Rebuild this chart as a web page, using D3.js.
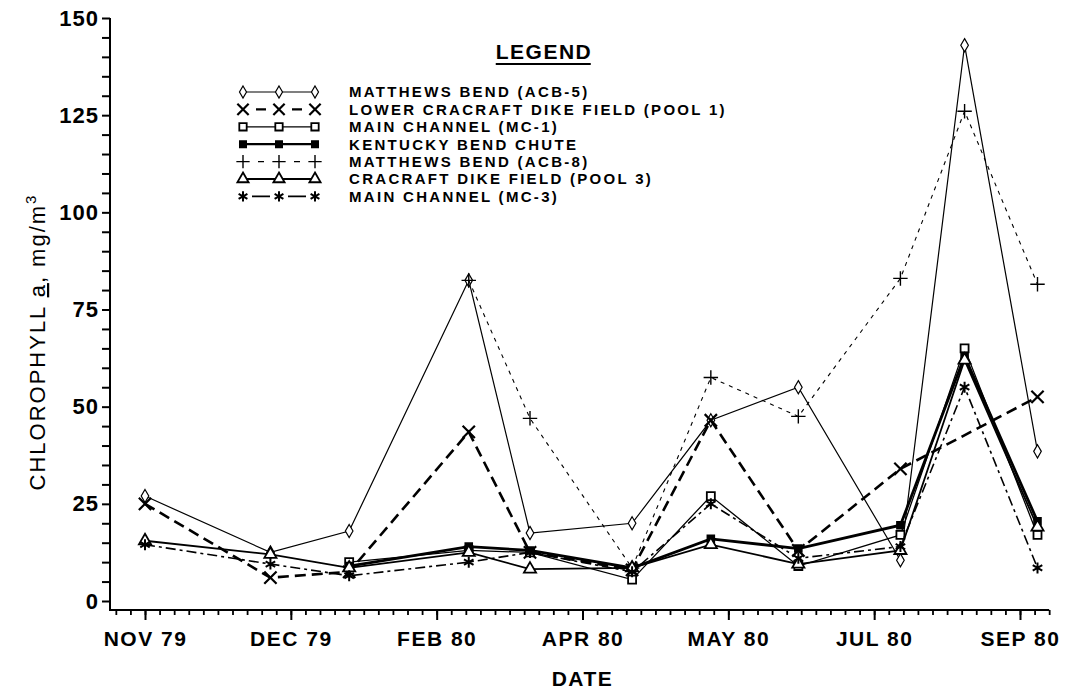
<!DOCTYPE html>
<html lang="en">
  <head>
    <meta charset="UTF-8" />
    <title>Chlorophyll a</title>
    <style>
      body { margin: 0; background: #fff; }
      text { font-family: "Liberation Sans", Arial, sans-serif; fill: #000; }
    </style>
  </head>
  <body>
    <svg id="svg" width="1065" height="693"></svg>

    <script src="https://d3js.org/d3.v7.min.js"></script>
    <script>
      // sampling dates, in days after the NOV 79 label
      const sampleDays = [0, 43, 70, 111, 132, 167, 194, 224, 259, 281, 306];

      // chlorophyll a, mg/m3 (null = not sampled)
      const acb5 = [27, 12.5, 18, 82.5, 17.5, 20, 46.5, 55, 10.5, 143, 38.5];
      const pool1 = [25, 6, 7.5, 43.5, 12.5, 8, 46.5, 13, 34, null, 52.5];
      const mc1 = [null, null, 10, 13, 12.5, 5.5, 27, 9, 17, 65, 17];
      const kentucky = [null, null, 9, 14, 13, 8.5, 16, 13.5, 19.5, 63, 20.5];
      const acb8 = [null, null, null, 82.5, 47, 8.5, 57.5, 47.5, 83, 126, 81.5];
      const pool3 = [15.5, 12, 8.5, 12.5, 8.2, 8.5, 14.5, 9.5, 13, 62, 19];
      const mc3 = [14.5, 9.5, 6.5, 10, 12.5, 7.5, 25, 11, 14, 55, 8.5];

      const seriesNames = [
        "MATTHEWS BEND (ACB-5)",
        "LOWER CRACRAFT DIKE FIELD (POOL 1)",
        "MAIN CHANNEL (MC-1)",
        "KENTUCKY BEND CHUTE",
        "MATTHEWS BEND (ACB-8)",
        "CRACRAFT DIKE FIELD (POOL 3)",
        "MAIN CHANNEL (MC-3)",
      ];
      const seriesValues = [acb5, pool1, mc1, kentucky, acb8, pool3, mc3];

      const xTickDays = [0, 50, 100, 150, 200, 250, 300];
      const xTickLabels = ["NOV 79", "DEC 79", "FEB 80", "APR 80", "MAY 80", "JUL 80", "SEP 80"];
      const yTickValues = [0, 25, 50, 75, 100, 125, 150];

      // look of each series: marker, line, and legend dash
      const styles = [
        { sym: d3.symbolDiamond, size: 50, fill: "#fff", sw: 1.2, lw: 1.2, dash: null, legDash: null },
        { sym: d3.symbolTimes, size: 100, fill: "none", sw: 2.2, lw: 2.6, dash: "11,6", legDash: "0,13,10,13" },
        { sym: d3.symbolSquare, size: 64, fill: "#fff", sw: 1.8, lw: 1.3, dash: null, legDash: null },
        { sym: d3.symbolSquare, size: 50, fill: "#000", sw: 1.5, lw: 2.8, dash: null, legDash: null },
        { sym: d3.symbolPlus, size: 70, fill: "none", sw: 1.4, lw: 1.1, dash: "4,5", legDash: "0,15,6,15" },
        { sym: d3.symbolTriangle, size: 64, fill: "#fff", sw: 1.8, lw: 1.8, dash: null, legDash: null },
        { sym: d3.symbolAsterisk, size: 85, fill: "none", sw: 2, lw: 1.6, dash: "10,4,3,4", legDash: "0,9,18,9" },
      ];

      const svg = d3.select("#svg");

      const x = d3.scaleLinear().domain([0, 300]).range([145, 1020]);
      const y = d3.scaleLinear().domain([0, 150]).range([601, 18]);

      const axisX = 110; // y axis position
      const axisY = 610; // x axis position

      // y axis
      const yAxis = svg
        .append("g")
        .attr("transform", `translate(${axisX},0)`)
        .call(
          d3
            .axisLeft(y)
            .tickValues(d3.range(0, 151, 5))
            .tickSize(8)
            .tickPadding(3)
            .tickFormat((d) => (yTickValues.includes(d) ? d : ""))
        );
      yAxis.select(".domain").remove();
      yAxis.selectAll("line").attr("stroke-width", 2);
      yAxis.selectAll("text")
        .style("font-size", "22px")
        .style("font-weight", "bold")
        .style("letter-spacing", "1px");

      // x axis: minor then major ticks
      const xMinor = svg
        .append("g")
        .attr("transform", `translate(0,${axisY})`)
        .call(d3.axisBottom(x).tickValues(d3.range(-10, 311, 5)).tickSize(5).tickFormat(""));
      xMinor.select(".domain").remove();
      xMinor.selectAll("line").attr("stroke-width", 1.8);

      const xMajor = svg
        .append("g")
        .attr("transform", `translate(0,${axisY})`)
        .call(
          d3
            .axisBottom(x)
            .tickValues(xTickDays)
            .tickSize(10)
            .tickPadding(11)
            .tickFormat((d, i) => xTickLabels[i])
        );
      xMajor.select(".domain").remove();
      xMajor.selectAll("line").attr("stroke-width", 2);
      xMajor.selectAll("text")
        .style("font-size", "21px")
        .style("font-weight", "bold")
        .style("letter-spacing", "1.5px");

      // axis lines
      svg.append("path")
        .attr("d", `M${axisX},${y(150)}V${axisY}H${x(310)}`)
        .attr("fill", "none")
        .attr("stroke", "#000")
        .attr("stroke-width", 2);

      // axis titles
      svg.append("text")
        .attr("x", x(150))
        .attr("y", 686)
        .attr("text-anchor", "middle")
        .style("font-size", "21px")
        .style("font-weight", "bold")
        .style("letter-spacing", "1.5px")
        .text("DATE");

      const yTitle = svg.append("text")
        .attr("transform", "translate(45,342) rotate(-90)")
        .attr("text-anchor", "middle")
        .style("font-size", "22px")
        .style("letter-spacing", "2px");
      yTitle.append("tspan").text("CHLOROPHYLL ");
      yTitle.append("tspan").style("text-decoration", "underline").text("a");
      yTitle.append("tspan").text(", mg/m");
      yTitle.append("tspan").attr("dy", -9).style("font-size", "15px").text("3");

      // series
      const line = d3.line().x((d) => x(d.day)).y((d) => y(d.v));

      seriesValues.forEach((vals, i) => {
        const st = styles[i];
        const pts = vals
          .map((v, j) => ({ day: sampleDays[j], v: v }))
          .filter((d) => d.v !== null);

        svg.append("path")
          .datum(pts)
          .attr("d", line)
          .attr("fill", "none")
          .attr("stroke", "#000")
          .attr("stroke-width", st.lw)
          .attr("stroke-dasharray", st.dash);

        svg.append("g")
          .selectAll("path")
          .data(pts)
          .join("path")
          .attr("transform", (d) => `translate(${x(d.day)},${y(d.v)})`)
          .attr("d", d3.symbol().type(st.sym).size(st.size))
          .attr("fill", st.fill)
          .attr("stroke", "#000")
          .attr("stroke-width", st.sw);
      });

      // legend
      const legTitle = svg.append("text")
        .attr("x", 544)
        .attr("y", 59)
        .attr("text-anchor", "middle")
        .style("font-size", "21px")
        .style("font-weight", "bold")
        .style("letter-spacing", "1.5px")
        .text("LEGEND");
      const bb = legTitle.node().getBBox();
      svg.append("line")
        .attr("x1", bb.x).attr("x2", bb.x + bb.width - 1.5)
        .attr("y1", 64).attr("y2", 64)
        .attr("stroke", "#000").attr("stroke-width", 2);

      const legMarks = [243, 279, 315];
      seriesNames.forEach((name, i) => {
        const st = styles[i];
        const ly = 92 + i * 17.4;
        svg.append("line")
          .attr("x1", legMarks[0]).attr("x2", legMarks[2])
          .attr("y1", ly).attr("y2", ly)
          .attr("stroke", "#000")
          .attr("stroke-width", Math.min(st.lw, 2.2))
          .attr("stroke-dasharray", st.legDash);
        legMarks.forEach((lx) => {
          svg.append("path")
            .attr("transform", `translate(${lx},${ly})`)
            .attr("d", d3.symbol().type(st.sym).size(st.size * 0.85))
            .attr("fill", st.fill)
            .attr("stroke", "#000")
            .attr("stroke-width", st.sw);
        });
        svg.append("text")
          .attr("x", 349)
          .attr("y", ly)
          .attr("dy", "0.36em")
          .style("font-size", "15px")
          .style("font-weight", "bold")
          .style("letter-spacing", "2.3px")
          .text(name);
      });
    </script>
  </body>
</html>
